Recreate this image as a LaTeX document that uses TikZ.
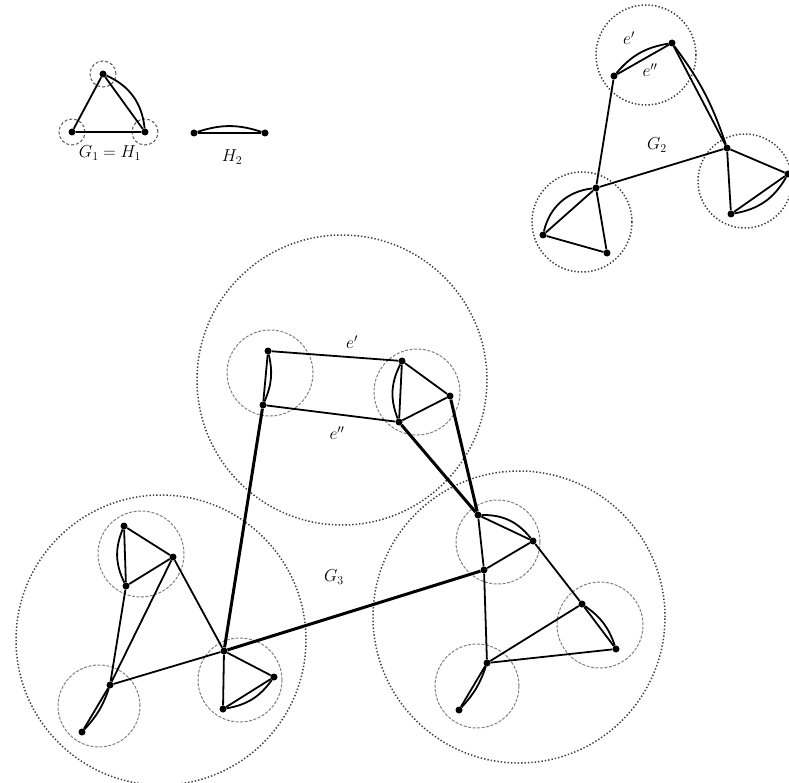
\documentclass[tikz,border=0pt]{standalone}
\usetikzlibrary{positioning}

\begin{document}
\begin{tikzpicture}[x=1pt, y=-1pt,
    vtx/.style={circle, fill=black, inner sep=0pt, minimum size=7pt},
    edge/.style={line width=1.8pt, black},
    link/.style={line width=3pt, black},
    bag/.style={dash pattern=on 1.4pt off 2pt, line width=1.5pt, black!75},
    ring/.style={dash pattern=on 3pt off 1.5pt, line width=1pt, black!50},
    dot ring/.style={dash pattern=on 3pt off 2pt, line width=1pt, black!65},
    lbl/.style={font=\LARGE},
]
\useasboundingbox (0,0) rectangle (789,783);

% G1 = H1 and H2
\node[vtx] (g1t) at (103,74) {};
\node[vtx] (g1l) at (72,132) {};
\node[vtx] (g1r) at (145,132) {};
\foreach \v in {g1t,g1l,g1r}
    \draw[dot ring] (\v) circle[radius=13pt];
\draw[edge] (g1t) -- (g1l) -- (g1r) -- (g1t);
\draw[edge] (g1t) to[bend left=30] (g1r);
\node[lbl] (g1lab) at (110,153) {$G_1 = H_1$};

\node[vtx] (h2l) at (194,133) {};
\node[vtx] (h2r) at (265,133) {};
\draw[edge] (h2l) -- (h2r);
\draw[edge] (h2l) to[bend left=18] (h2r);
\node[lbl] (h2lab) at (232,157) {$H_2$};

% G2
\draw[bag] (646,55) circle[radius=50pt];
\draw[bag] (582,222) circle[radius=50pt];
\draw[bag] (745,181) circle[radius=47pt];
\node[vtx] (a1) at (614,76) {};
\node[vtx] (a2) at (672,43) {};
\node[vtx] (b1) at (727,148) {};
\node[vtx] (b2) at (788,174) {};
\node[vtx] (b3) at (731,214) {};
\node[vtx] (c1) at (596,188) {};
\node[vtx] (c2) at (543,235) {};
\node[vtx] (c3) at (607,253) {};
\draw[edge] (a1) -- (a2);
\draw[edge] (a1) to[bend left=20] (a2);
\draw[edge] (a2) -- (b1);
\draw[edge] (a2) to[bend left=9] (b1);
\draw[edge] (a1) -- (c1) -- (b1);
\draw[edge] (b1) -- (b2) -- (b3) -- (b1);
\draw[edge] (b3) to[bend right=25] (b2);
\draw[edge] (c1) -- (c2) -- (c3) -- (c1);
\draw[edge] (c1) to[bend right=35] (c2);
\node[lbl] (e1a) at (629,38) {$e'$};
\node[lbl] (e2a) at (650,70) {$e''$};
\node[lbl] (g2lab) at (657,145) {$G_2$};

% G3
\draw[bag] (342,380) circle[radius=145pt];
\draw[bag] (161,640) circle[radius=145pt];
\draw[bag] (519,617) circle[radius=146pt];
\draw[ring] (270,373) circle[radius=43pt];
\draw[ring] (417,392) circle[radius=43pt];
\draw[ring] (141,554) circle[radius=43pt];
\draw[ring] (99,706) circle[radius=41pt];
\draw[ring] (240,680) circle[radius=42pt];
\draw[ring] (498,542) circle[radius=42pt];
\draw[ring] (600,625) circle[radius=43pt];
\draw[ring] (477,686) circle[radius=42pt];

\node[vtx] (p1) at (268,351) {};
\node[vtx] (p2) at (263,405) {};
\node[vtx] (q1) at (402,361) {};
\node[vtx] (q2) at (399,422) {};
\node[vtx] (q3) at (450,396) {};
\node[vtx] (r1) at (124,526) {};
\node[vtx] (r2) at (126,586) {};
\node[vtx] (r3) at (173,557) {};
\node[vtx] (s1) at (110,685) {};
\node[vtx] (s2) at (82,732) {};
\node[vtx] (t1) at (224,651) {};
\node[vtx] (t2) at (223,709) {};
\node[vtx] (t3) at (274,677) {};
\node[vtx] (u1) at (478,515) {};
\node[vtx] (u2) at (533,541) {};
\node[vtx] (u3) at (484,570) {};
\node[vtx] (v1) at (582,604) {};
\node[vtx] (v2) at (616,649) {};
\node[vtx] (w1) at (487,663) {};
\node[vtx] (w2) at (459,710) {};

\draw[edge] (p1) -- (q1);
\draw[edge] (p2) -- (q2);
\draw[edge] (p1) -- (p2);
\draw[edge] (p1) to[bend left=18] (p2);
\draw[edge] (q1) -- (q2) -- (q3) -- (q1);
\draw[edge] (q1) to[bend right=24] (q2);

\draw[edge] (r1) -- (r2) -- (r3) -- (r1);
\draw[edge] (r1) to[bend right=24] (r2);
\draw[edge] (r2) -- (s1) -- (r3) -- (t1) -- (s1);
\draw[edge] (s1) -- (s2);
\draw[edge] (s1) to[bend left=12] (s2);
\draw[edge] (t1) -- (t2) -- (t3) -- (t1);
\draw[edge] (t2) to[bend right=22] (t3);

\draw[edge] (u1) -- (u2) -- (u3) -- (u1);
\draw[edge] (u1) to[bend left=26] (u2);
\draw[edge] (u2) -- (v1) -- (v2);
\draw[edge] (v1) to[bend left=18] (v2);
\draw[edge] (u3) -- (w1) -- (v1);
\draw[edge] (w1) -- (v2);
\draw[edge] (w1) -- (w2);
\draw[edge] (w1) to[bend left=12] (w2);

\draw[link] (p2) -- (t1);
\draw[link] (t1) -- (u3);
\draw[link] (q2) -- (u1);
\draw[link] (q3) -- (u1);

\node[lbl] (e1b) at (352,342) {$e'$};
\node[lbl] (e2b) at (337,433) {$e''$};
\node[lbl] (g3lab) at (334,577) {$G_3$};
\end{tikzpicture}
\end{document}
